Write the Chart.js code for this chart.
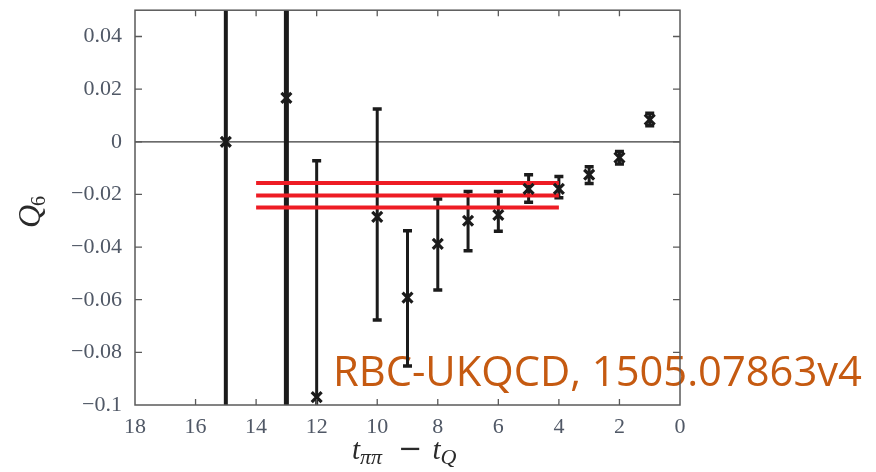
<!DOCTYPE html>
<html>
<head>
<meta charset="utf-8">
<style>
  html, body { margin: 0; padding: 0; background: #ffffff; }
  #wrap { width: 876px; height: 472px; position: relative; }
</style>
<script src="https://cdn.jsdelivr.net/npm/chart.js@4/dist/chart.umd.min.js"></script>
</head>
<body>
<div id="wrap"><canvas id="chart" width="876" height="472"></canvas></div>
<script>
// Q6 matrix element vs. source–sink separation
const tSeparation = [15, 13, 12, 10, 9, 8, 7, 6, 5, 4, 3, 2, 1];
const q6Central   = [0.0, 0.0167, -0.0970, -0.0285, -0.0592, -0.0388, -0.0300, -0.0278, -0.0179, -0.0179, -0.0125, -0.0060, 0.0084];
const q6Upper     = [0.15, 0.15, -0.0072, 0.0125, -0.0338, -0.0217, -0.0189, -0.0189, -0.0125, -0.0132, -0.0095, -0.0037, 0.0108];
const q6Lower     = [-0.15, -0.15, -0.1870, -0.0677, -0.0852, -0.0563, -0.0414, -0.0340, -0.0230, -0.0213, -0.0158, -0.0084, 0.0061];
const barWidths   = [4, 5, 3, 3, 3, 3, 3, 3, 3, 3, 3, 3, 3];

// fitted value with its error band, over the fit window
const fitLevels = [-0.0157, -0.0204, -0.0250];
const fitWindow = [14, 4];

const xTickValues = [18, 16, 14, 12, 10, 8, 6, 4, 2, 0];
const yTickValues = [0.04, 0.02, 0, -0.02, -0.04, -0.06, -0.08, -0.1];

const sourceNote = 'RBC-UKQCD, 1505.07863v4';

const INK = '#1b1b1b';
const FRAME = '#5a5a5a';
const LABEL = '#505866';
const SERIF = "'Liberation Serif', 'DejaVu Serif', serif";

function fmtTick(v) {
  const r = Math.round(v * 100) / 100;
  if (Math.abs(r) < 1e-9) return '0';
  return (r < 0 ? '\u2212' : '') + String(Math.abs(r));
}

const pointData = tSeparation.map((t, i) => ({ x: t, y: q6Central[i] }));

const fitDatasets = fitLevels.map(level => ({
  type: 'line',
  data: [{ x: fitWindow[0], y: level }, { x: fitWindow[1], y: level }],
  borderColor: '#ee1c24',
  borderWidth: 4,
  pointRadius: 0,
  fill: false,
  order: 2
}));

// background layer: zero line, note text, error bars
const backLayer = {
  id: 'backLayer',
  beforeDatasetsDraw(chart) {
    const { ctx, chartArea: a, scales: { x, y } } = chart;
    ctx.save();
    // zero line
    const y0 = y.getPixelForValue(0);
    ctx.strokeStyle = '#3a3a3a';
    ctx.lineWidth = 1.3;
    ctx.beginPath();
    ctx.moveTo(a.left, y0);
    ctx.lineTo(a.right, y0);
    ctx.stroke();

    // publication note
    ctx.font = "41.7px 'Open Sans', 'Noto Sans', sans-serif";
    ctx.fillStyle = '#c55a11';
    ctx.textBaseline = 'alphabetic';
    ctx.textAlign = 'left';
    ctx.fillText(sourceNote, 333, 386);

    // error bars with caps
    ctx.beginPath();
    ctx.rect(a.left, a.top, a.right - a.left, a.bottom - a.top);
    ctx.clip();
    ctx.strokeStyle = INK;
    tSeparation.forEach((t, i) => {
      const px = x.getPixelForValue(t);
      const pHi = y.getPixelForValue(q6Upper[i]);
      const pLo = y.getPixelForValue(q6Lower[i]);
      ctx.lineWidth = barWidths[i];
      ctx.lineCap = 'butt';
      ctx.beginPath();
      ctx.moveTo(px, pHi);
      ctx.lineTo(px, pLo);
      ctx.stroke();
      ctx.lineWidth = 3.5;
      ctx.beginPath();
      ctx.moveTo(px - 4.5, pHi);
      ctx.lineTo(px + 4.5, pHi);
      ctx.moveTo(px - 4.5, pLo);
      ctx.lineTo(px + 4.5, pLo);
      ctx.stroke();
    });
    ctx.restore();
  },
  afterDraw(chart) {
    const { ctx, chartArea: a, scales: { x, y } } = chart;
    ctx.save();
    // frame
    ctx.strokeStyle = FRAME;
    ctx.lineWidth = 1.5;
    ctx.strokeRect(a.left, a.top, a.right - a.left, a.bottom - a.top);
    // inward tick marks on all four sides
    ctx.lineWidth = 1.3;
    ctx.beginPath();
    xTickValues.forEach(v => {
      if (v === 18 || v === 0) return;
      const px = x.getPixelForValue(v);
      ctx.moveTo(px, a.bottom); ctx.lineTo(px, a.bottom - 6);
      ctx.moveTo(px, a.top); ctx.lineTo(px, a.top + 6);
    });
    yTickValues.forEach(v => {
      if (v === -0.1) return;
      const py = y.getPixelForValue(v);
      ctx.moveTo(a.left, py); ctx.lineTo(a.left + 7, py);
      ctx.moveTo(a.right, py); ctx.lineTo(a.right - 7, py);
    });
    ctx.stroke();

    // axis titles
    ctx.fillStyle = '#2a2a2a';
    ctx.textBaseline = 'alphabetic';
    ctx.textAlign = 'left';
    // y title: Q with subscript 6
    ctx.save();
    ctx.translate(40, 228);
    ctx.rotate(-Math.PI / 2);
    ctx.font = 'italic 32px ' + SERIF;
    ctx.fillText('Q', 0, 0);
    const qw = ctx.measureText('Q').width;
    ctx.font = '20px ' + SERIF;
    ctx.fillText('6', qw - 1, 5);
    ctx.restore();

    // x title: t_{ππ} − t_Q
    let cx = 352;
    const base = 459;
    ctx.font = 'italic 29px ' + SERIF;
    ctx.fillText('t', cx, base);
    cx += ctx.measureText('t').width;
    ctx.font = 'italic 22px ' + SERIF;
    ctx.fillText('\u03C0\u03C0', cx, base + 5);
    cx += ctx.measureText('\u03C0\u03C0').width + 16;
    ctx.font = "29px 'DejaVu Serif', serif";
    ctx.fillText('\u2212', cx, base - 1);
    cx += ctx.measureText('\u2212').width + 10;
    ctx.font = 'italic 29px ' + SERIF;
    ctx.fillText('t', cx, base);
    cx += ctx.measureText('t').width;
    ctx.font = 'italic 22px ' + SERIF;
    ctx.fillText('Q', cx, base + 5);
    ctx.restore();
  }
};

new Chart(document.getElementById('chart'), {
  type: 'scatter',
  data: {
    datasets: [
      {
        data: pointData,
        pointStyle: 'crossRot',
        pointRadius: 7,
        pointBorderWidth: 3.2,
        borderColor: INK,
        backgroundColor: INK,
        showLine: false,
        order: 1
      },
      ...fitDatasets
    ]
  },
  options: {
    responsive: false,
    animation: false,
    events: [],
    layout: { padding: { top: 10, right: 196, left: 0, bottom: 0 } },
    plugins: { legend: { display: false }, tooltip: { enabled: false } },
    scales: {
      x: {
        type: 'linear',
        reverse: true,
        min: 0,
        max: 18,
        afterBuildTicks(scale) { scale.ticks = xTickValues.map(v => ({ value: v })); },
        afterFit(scale) { scale.height = 67; scale.paddingLeft = 0; scale.paddingRight = 0; },
        ticks: {
          autoSkip: false,
          maxRotation: 0,
          padding: 9,
          color: LABEL,
          font: { family: SERIF, size: 22 },
          callback: v => String(v)
        },
        grid: { display: false, drawTicks: false },
        border: { display: false }
      },
      y: {
        type: 'linear',
        min: -0.1,
        max: 0.05,
        afterBuildTicks(scale) { scale.ticks = yTickValues.map(v => ({ value: v })); },
        afterFit(scale) { scale.width = 135; scale.paddingTop = 0; scale.paddingBottom = 0; },
        ticks: {
          autoSkip: false,
          padding: 13,
          color: LABEL,
          font: { family: SERIF, size: 22 },
          callback: v => fmtTick(v)
        },
        grid: { display: false, drawTicks: false },
        border: { display: false }
      }
    }
  },
  plugins: [backLayer]
});
</script>
</body>
</html>
